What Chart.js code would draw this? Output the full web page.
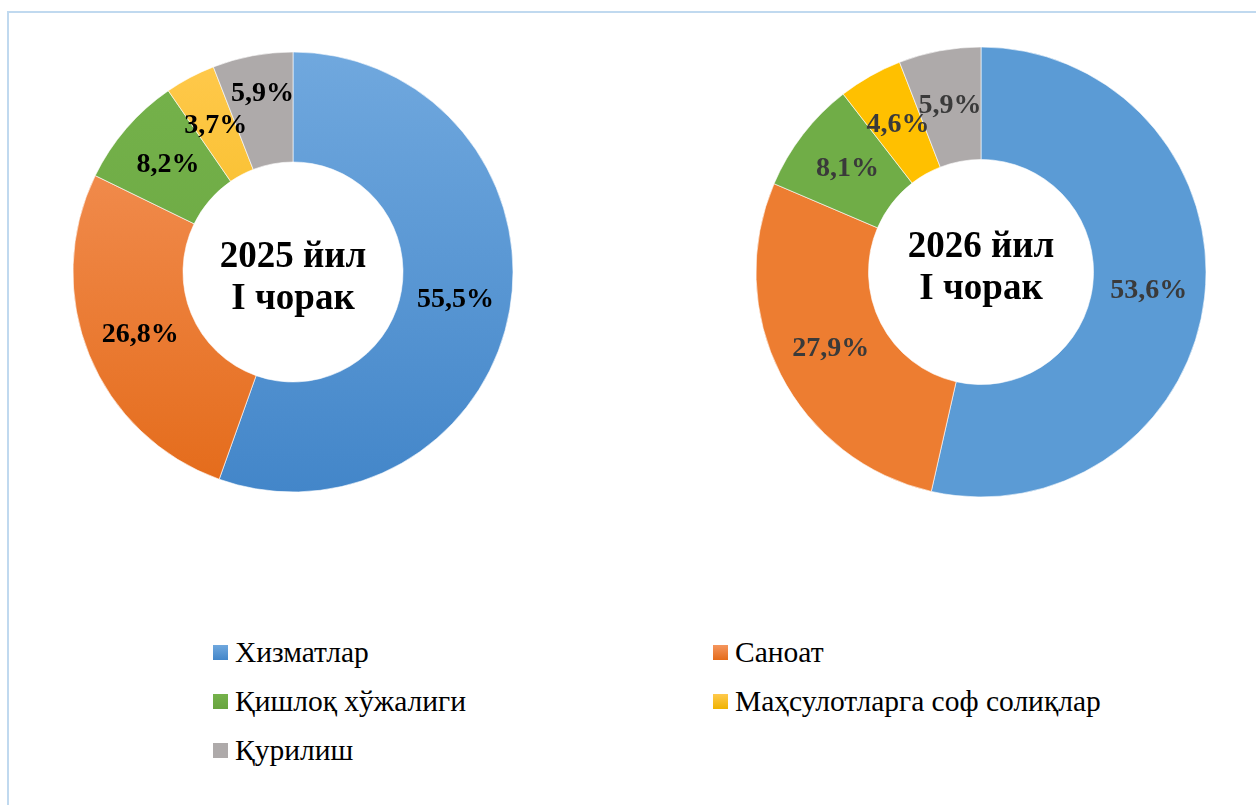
<!DOCTYPE html>
<html>
<head>
<meta charset="utf-8">
<script src="https://cdn.jsdelivr.net/npm/chart.js@4.4.1/dist/chart.umd.min.js"></script>
<style>
  html, body { margin: 0; padding: 0; background: #fff; }
  body { width: 1256px; height: 805px; position: relative; overflow: hidden; }
  #frame {
    position: absolute; left: 7px; top: 11px; width: 1260px; height: 800px;
    border-left: 2px solid #c0d9ef; border-top: 2px solid #c0d9ef;
  }
  canvas { position: absolute; }
  #c2025 { left: 53px; top: 32px; }
  #c2026 { left: 741px; top: 32px; }
  #legend {
    position: absolute; left: 213px; top: 637px;
    display: grid; grid-template-columns: 500px 500px; row-gap: 19px;
    font-family: "Liberation Serif", "Times New Roman", serif; font-size: 29.5px; color: #000;
  }
  .item { display: flex; align-items: center; height: 30px; }
  .box { width: 15px; height: 15px; margin-right: 7px; }
</style>
</head>
<body>
<div id="frame"></div>
<canvas id="c2025" width="480" height="480"></canvas>
<canvas id="c2026" width="480" height="480"></canvas>
<div id="legend"></div>
<script>
// Маълумотлар
const categories = ["Хизматлар", "Саноат", "Қишлоқ хўжалиги", "Маҳсулотларга соф солиқлар", "Қурилиш"];
const values2025 = [55.5, 26.8, 8.2, 3.7, 5.9];
const values2026 = [53.6, 27.9, 8.1, 4.6, 5.9];
const centerText2025 = ["2025 йил", "I чорак"];
const centerText2026 = ["2026 йил", "I чорак"];

// Ранглар
const COLORS = ["#5b9bd5", "#ed7d31", "#70ad47", "#ffc000", "#aeaaaa"];
const GRAD_TOP = ["#70a8de", "#f5965e", "#75b24b", "#ffc94d", "#aeaaaa"];
const GRAD_BOTTOM = ["#4386c9", "#e46b1a", "#68a43f", "#efb300", "#aeaaaa"];

const fmt = (v) => v.toFixed(1).replace(".", ",") + "%";

// Марказий матн ва фоиз ёзувлари
const labelsPlugin = {
  id: "donutLabels",
  afterDatasetsDraw(chart) {
    const o = chart.options.plugins.donutLabels;
    const ctx = chart.ctx;
    const meta = chart.getDatasetMeta(0);
    const ds = chart.data.datasets[0];
    ctx.save();
    ctx.textAlign = "center";
    ctx.textBaseline = "middle";
    ctx.font = "bold 28px 'Liberation Serif'";
    ctx.fillStyle = o.labelColor;
    meta.data.forEach((arc, i) => {
      const p = arc.getCenterPoint();
      ctx.fillText(fmt(ds.data[i]), p.x, p.y + (o.shift[i] || 0));
    });
    const arc0 = meta.data[0];
    ctx.fillStyle = "#000";
    ctx.font = "bold 37px 'Liberation Serif'";
    ctx.textBaseline = "alphabetic";
    o.center.forEach((line, k) => {
      ctx.fillText(line, arc0.x, arc0.y + o.centerY + k * 42);
    });
    ctx.restore();
  }
};

function gradientFill(c) {
  const chart = c.chart;
  const area = chart.chartArea;
  const i = c.dataIndex;
  if (!area) return COLORS[i];
  const cy = (area.top + area.bottom) / 2;
  const g = chart.ctx.createLinearGradient(0, cy - 220, 0, cy + 220);
  g.addColorStop(0, GRAD_TOP[i]);
  g.addColorStop(1, GRAD_BOTTOM[i]);
  return g;
}

function makeDonut(id, values, bg, radius, labelColor, center, centerY, shift) {
  return new Chart(document.getElementById(id), {
    type: "doughnut",
    data: {
      labels: categories,
      datasets: [{
        data: values,
        backgroundColor: bg,
        borderColor: "rgba(255,255,255,0.6)",
        borderWidth: 1,
        hoverOffset: 0
      }]
    },
    options: {
      responsive: false,
      animation: false,
      radius: radius,
      cutout: "50%",
      layout: { padding: 0 },
      plugins: {
        legend: { display: false },
        tooltip: { enabled: false },
        donutLabels: { labelColor, center, centerY, shift }
      }
    },
    plugins: [labelsPlugin]
  });
}

makeDonut("c2025", values2025, gradientFill, 220, "#000", centerText2025, -5, [0, 0, 0, 0, -16]);
makeDonut("c2026", values2026, COLORS, 225, "#3a3a3a", centerText2026, -15, [0, 0, 0, 0, 0]);

// Легенда
const legend = document.getElementById("legend");
categories.forEach((name, i) => {
  const item = document.createElement("div");
  item.className = "item";
  const box = document.createElement("span");
  box.className = "box";
  box.style.background = `linear-gradient(${GRAD_TOP[i]}, ${GRAD_BOTTOM[i]})`;
  item.appendChild(box);
  item.appendChild(document.createTextNode(name));
  legend.appendChild(item);
});
</script>
</body>
</html>
